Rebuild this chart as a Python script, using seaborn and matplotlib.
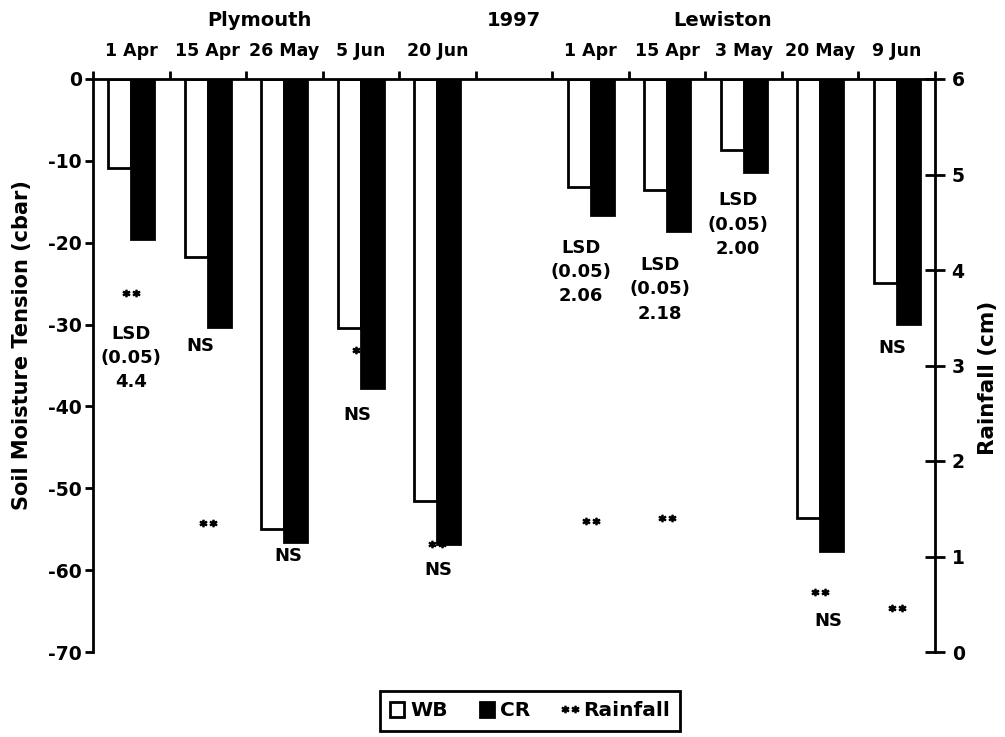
import numpy as np
import pandas as pd
import matplotlib
matplotlib.use("Agg")
import matplotlib.pyplot as plt
import matplotlib.transforms as mtransforms
from matplotlib.patches import Patch
from matplotlib.lines import Line2D
import seaborn as sns

# ---------------- data ----------------
plymouth_dates = ["1 Apr", "15 Apr", "26 May", "5 Jun", "20 Jun"]
lewiston_dates = ["1 Apr", "15 Apr", "3 May", "20 May", "9 Jun"]
gap_label = "1997"

plymouth_wb = [-10.9, -21.8, -55.0, -30.4, -51.6]
plymouth_cr = [-19.6, -30.3, -56.6, -37.8, -56.8]
lewiston_wb = [-13.2, -13.6, -8.7, -53.6, -24.9]
lewiston_cr = [-16.6, -18.6, -11.4, -57.7, -29.9]

plymouth_rain = [3.76, 1.35, np.nan, 3.16, 1.13]
lewiston_rain = [1.37, 1.40, np.nan, 0.63, 0.46]

stat_labels = ["LSD\n(0.05)\n4.4", "NS", "NS", "NS", "NS",
               "LSD\n(0.05)\n2.06", "LSD\n(0.05)\n2.18", "LSD\n(0.05)\n2.00", "NS", "NS"]
# label placement (category index, soil-tension axis value)
stat_x = [0.0, 0.90, 2.05, 2.96, 4.01, 5.87, 6.91, 7.93, 9.11, 9.94]
stat_y = [-34.1, -32.6, -58.3, -41.1, -60.0, -23.6, -25.7, -17.8, -66.2, -32.9]

# ---------------- tables ----------------
p_keys = ["Plymouth " + d for d in plymouth_dates]
l_keys = ["Lewiston " + d for d in lewiston_dates]
order = p_keys + [gap_label] + l_keys
tick_labels = plymouth_dates + [""] + lewiston_dates

bars = pd.DataFrame({
    "slot": (p_keys + l_keys) * 2,
    "tension": plymouth_wb + lewiston_wb + plymouth_cr + lewiston_cr,
    "treatment": ["WB"] * 10 + ["CR"] * 10,
})
rain = pd.DataFrame({"slot": p_keys + l_keys, "rain": plymouth_rain + lewiston_rain})

# ---------------- style ----------------
sns.set_theme(style="white")
plt.rcParams["font.family"] = ["DejaVu Sans"]
plt.rcParams["font.weight"] = "bold"
plt.rcParams["axes.unicode_minus"] = False
plt.rcParams["text.color"] = "black"
plt.rcParams["axes.labelcolor"] = "black"
plt.rcParams["xtick.color"] = "black"
plt.rcParams["ytick.color"] = "black"

fig = plt.figure(figsize=(10.05, 7.37), dpi=100)
fig.subplots_adjust(left=93 / 1005, right=935 / 1005, top=1 - 79 / 737, bottom=1 - 652 / 737)
ax = fig.add_subplot(111)
ax2 = ax.twinx()

sns.barplot(data=bars, x="slot", y="tension", hue="treatment", order=order,
            hue_order=["WB", "CR"], palette={"WB": "white", "CR": "black"},
            edgecolor="black", linewidth=2, width=0.6, errorbar=None,
            saturation=1, legend=False, ax=ax)

sns.stripplot(data=rain, x="slot", y="rain", order=order, jitter=False,
              marker="$**$", color="black", edgecolor="black", size=12,
              linewidth=1.0, ax=ax2)

ax.set_zorder(ax2.get_zorder() + 1)
ax.patch.set_visible(False)

# axes limits / ticks
ax.set_xlim(-0.5, len(order) - 0.5)
ax.set_ylim(-70, 0)
ax.set_yticks(np.arange(-70, 1, 10))
ax2.set_ylim(0, 6)
ax2.set_yticks(np.arange(0, 7, 1))

ax.xaxis.tick_top()
ax.set_xticks(np.arange(len(order)))
ax.set_xticklabels(tick_labels)
ax.set_xticks(np.arange(-0.5, len(order), 1), minor=True)
ax.tick_params(axis="x", which="major", length=0, pad=14, labelsize=12.5,
               top=True, bottom=False, labeltop=True, labelbottom=False)
ax.tick_params(axis="x", which="minor", length=6, width=2, direction="out",
               top=True, bottom=False, color="black")
ax.tick_params(axis="y", which="major", length=6, width=2, direction="out",
               pad=2, labelsize=13.5, left=True, color="black")
ax2.tick_params(axis="y", which="major", length=14, width=2, direction="inout",
                pad=5, labelsize=13.5, right=True, color="black")

for lab in ax.get_xticklabels() + ax.get_yticklabels() + ax2.get_yticklabels():
    lab.set_fontweight("bold")
    lab.set_color("black")

ax.set_xlabel("")
ax.set_ylabel("")
ax2.set_xlabel("")
ax2.set_ylabel("")

for s in ["bottom", "right"]:
    ax.spines[s].set_visible(False)
for s in ["left", "top"]:
    ax.spines[s].set_visible(True)
    ax.spines[s].set_color("black")
    ax.spines[s].set_linewidth(2)
for s in ["bottom", "left", "top"]:
    ax2.spines[s].set_visible(False)
ax2.spines["right"].set_visible(True)
ax2.spines["right"].set_color("black")
ax2.spines["right"].set_linewidth(2)

# statistical labels
for x, y, s in zip(stat_x, stat_y, stat_labels):
    ax.text(x, y, s, ha="center", va="center", fontsize=13, fontweight="bold",
            linespacing=1.45, color="black")

# site / year headers
trans = mtransforms.blended_transform_factory(ax.transData, fig.transFigure)
for x, s in [(1.68, "Plymouth"), (5.0, gap_label), (7.72, "Lewiston")]:
    ax.text(x, 1 - 21 / 737, s, transform=trans, ha="center", va="center",
            fontsize=14, fontweight="bold", color="black")

# axis titles
fig.text(22 / 1005, 1 - 345 / 737, "Soil Moisture Tension (cbar)", rotation=90,
         ha="center", va="center", fontsize=15, fontweight="bold", color="black")
fig.text(988 / 1005, 1 - 378 / 737, "Rainfall (cm)", rotation=90,
         ha="center", va="center", fontsize=15.5, fontweight="bold", color="black")

# legend
handles = [Patch(facecolor="white", edgecolor="black", linewidth=2, label="WB"),
           Patch(facecolor="black", edgecolor="black", linewidth=2, label="CR"),
           Line2D([], [], marker="$**$", linestyle="None", color="black",
                  markeredgewidth=1.0, markersize=12, label="Rainfall")]
leg = fig.legend(handles=handles, loc="center", ncol=3,
                 bbox_to_anchor=(530 / 1005, 1 - 711 / 737),
                 bbox_transform=fig.transFigure, frameon=True, fancybox=False,
                 edgecolor="black", framealpha=1, fontsize=14.5,
                 handlelength=0.7, handleheight=0.7, handletextpad=0.3,
                 columnspacing=1.6, borderpad=0.5, borderaxespad=0,
                 labelcolor="black")
leg.get_frame().set_linewidth(2)
for t in leg.get_texts():
    t.set_fontweight("bold")

fig.savefig("out.png", dpi=100)
